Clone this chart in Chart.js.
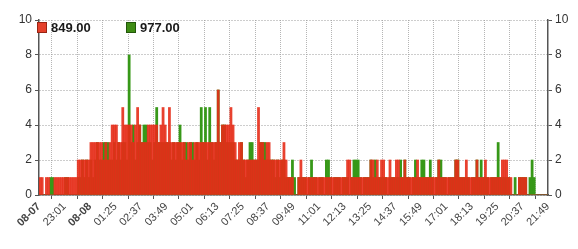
<!DOCTYPE html>
<html>
<head>
<meta charset="utf-8">
<script src="https://cdn.jsdelivr.net/npm/chart.js@4.4.1/dist/chart.umd.min.js"></script>
<style>
  html, body { margin: 0; padding: 0; background: #fff; }
  #wrap { width: 578px; height: 249px; }
</style>
</head>
<body>
<div id="wrap"><canvas id="c" width="578" height="249"></canvas></div>
<script>
// Eixo X: rótulos a cada 72 min (24 h, cestas de 6 min)
const xLabels = ['08-07', '23:01', '08-08', '01:25', '02:37', '03:49', '05:01', '06:13', '07:25', '08:37', '09:49',
  '11:01', '12:13', '13:25', '14:37', '15:49', '17:01', '18:13', '19:25', '20:37', '21:49'];
const yTicks = [0, 2, 4, 6, 8, 10];
const seriesNames = ['849.00', '977.00'];
const binMinutes = 6;

// contagens por cesta de 6 min
const red = [
  1,1,0,1,1,0,0,1,1,1, 1,1,1,1,1,1,1,1,2,2, 2,2,2,2,3,3,3,3,3,3, 2,3,2,3,4,4,4,3,3,5,
  4,4,4,4,3,4,5,4,3,3, 3,4,4,4,4,4,3,4,5,4, 3,5,3,3,3,3,3,3,3,2, 3,3,2,3,3,3,3,3,3,3,
  3,3,3,3,6,3,4,4,4,4, 5,4,3,2,3,3,2,2,2,2, 2,2,2,5,3,3,2,3,3,2, 2,2,2,2,2,3,2,1,1,1,
  0,0,1,2,1,1,1,1,1,1, 1,1,1,1,1,1,1,1,1,1, 1,1,1,1,1,2,2,1,1,1, 1,1,1,1,1,1,2,2,1,2,
  1,2,2,1,1,2,1,1,2,2, 1,1,2,1,1,1,1,1,2,1, 1,1,1,1,1,1,1,1,2,1, 1,1,1,1,1,1,2,2,1,1,
  1,2,1,1,1,1,2,1,1,1, 2,1,1,1,1,1,1,1,2,2, 2,1,1,0,0,0,1,1,1,1, 0,0,0,0,0,0,0,0,0,0
];
const green = [
  0,0,0,0,0,1,1,0,0,0, 0,0,1,1,0,0,0,0,1,1, 2,1,2,1,2,1,2,3,2,2, 3,3,3,2,2,3,2,3,2,3,
  3,2,8,3,4,2,3,4,3,4, 4,3,3,2,3,5,3,3,3,3, 3,3,2,3,2,3,4,2,3,3, 2,3,3,2,3,2,5,3,5,2,
  5,3,2,3,6,3,4,4,3,3, 3,3,2,2,2,3,2,1,2,3, 3,2,2,2,3,3,3,2,2,2, 2,1,2,1,2,2,1,1,1,2,
  1,0,1,1,1,1,0,1,2,1, 1,0,1,1,0,2,2,1,0,1, 1,1,0,1,1,1,0,1,2,2, 2,1,0,1,1,1,2,1,2,1,
  1,1,1,1,0,1,1,1,1,1, 2,1,2,1,1,0,1,2,1,1, 2,2,1,1,2,1,0,1,2,2, 1,1,0,1,1,1,2,2,1,1,
  1,1,1,0,1,1,2,1,2,1, 1,1,0,1,1,1,3,1,1,1, 1,1,0,0,1,0,1,1,1,1, 0,1,2,1,0,0,0,0,0,0
];

const toPoints = arr => arr.map((v, i) => ({ x: i * binMinutes + binMinutes / 2, y: v }));

// legenda dentro da área do gráfico, no canto superior esquerdo
const innerLegend = {
  id: 'innerLegend',
  afterDraw(chart) {
    const ctx = chart.ctx;
    const area = chart.chartArea;
    ctx.save();
    ctx.font = 'bold 13px "Liberation Sans", Arial, sans-serif';
    ctx.textBaseline = 'middle';
    chart.data.datasets.forEach((ds, i) => {
      const x = area.left - 2 + i * 89;
      const y = area.top + 2;
      ctx.fillStyle = ds.legendFill;
      ctx.strokeStyle = ds.legendStroke;
      ctx.lineWidth = 1;
      ctx.fillRect(x, y, 10, 11);
      ctx.strokeRect(x + 0.5, y + 0.5, 9, 10);
      ctx.fillStyle = '#1a1a1a';
      ctx.fillText(ds.label, x + 14, y + 6);
    });
    ctx.restore();
  }
};

const gridOpts = { color: '#9a9a9a', tickColor: '#555', tickLength: 4, lineWidth: 1 };

new Chart(document.getElementById('c'), {
  type: 'bar',
  data: {
    datasets: [
      {
        label: seriesNames[0],
        data: toPoints(red),
        backgroundColor: 'rgba(230,44,24,0.9)',
        legendFill: '#e4402a', legendStroke: '#9a2412',
        grouped: false, barPercentage: 1, categoryPercentage: 1, borderWidth: 0,
        yAxisID: 'y'
      },
      {
        label: seriesNames[1],
        data: toPoints(green),
        backgroundColor: '#379818',
        legendFill: '#3e8c14', legendStroke: '#22570a',
        grouped: false, barPercentage: 1, categoryPercentage: 1, borderWidth: 0,
        yAxisID: 'y'
      }
    ]
  },
  options: {
    responsive: false,
    animation: false,
    layout: { padding: { top: 20 } },
    plugins: { legend: { display: false }, tooltip: { enabled: false } },
    scales: {
      x: {
        type: 'linear',
        min: 0,
        max: xLabels.length * 72 - 72,
        offset: false,
        afterFit: s => { s.height = 54; },
        grid: Object.assign({}, gridOpts, { color: '#b5b5b5' }),
        border: { display: true, color: '#555', width: 1.5, dash: [1, 1] },
        ticks: {
          stepSize: 72,
          autoSkip: false,
          maxRotation: 45,
          minRotation: 45,
          padding: 1,
          color: '#444',
          font: ctx => ({
            family: '"Liberation Sans", Arial, sans-serif',
            size: 11,
            weight: (ctx.tick && String(xLabels[ctx.index]).includes('-')) ? 'bold' : 'normal'
          }),
          callback: (v, i) => xLabels[i]
        }
      },
      y: {
        position: 'left',
        min: 0,
        max: 10,
        afterFit: s => { s.width = 39; },
        afterBuildTicks: s => { s.ticks = yTicks.map(v => ({ value: v })); },
        grid: gridOpts,
        border: { display: true, color: '#555', width: 1.5, dash: [1, 2] },
        ticks: { color: '#333', padding: 3, font: { family: '"Liberation Sans", Arial, sans-serif', size: 12 } }
      },
      y2: {
        position: 'right',
        min: 0,
        max: 10,
        afterFit: s => { s.width = 30; },
        afterBuildTicks: s => { s.ticks = yTicks.map(v => ({ value: v })); },
        grid: Object.assign({}, gridOpts, { drawOnChartArea: false }),
        border: { display: true, color: '#555', width: 1.5 },
        ticks: { color: '#333', padding: 3, font: { family: '"Liberation Sans", Arial, sans-serif', size: 12 } }
      }
    }
  },
  plugins: [innerLegend]
});
</script>
</body>
</html>
